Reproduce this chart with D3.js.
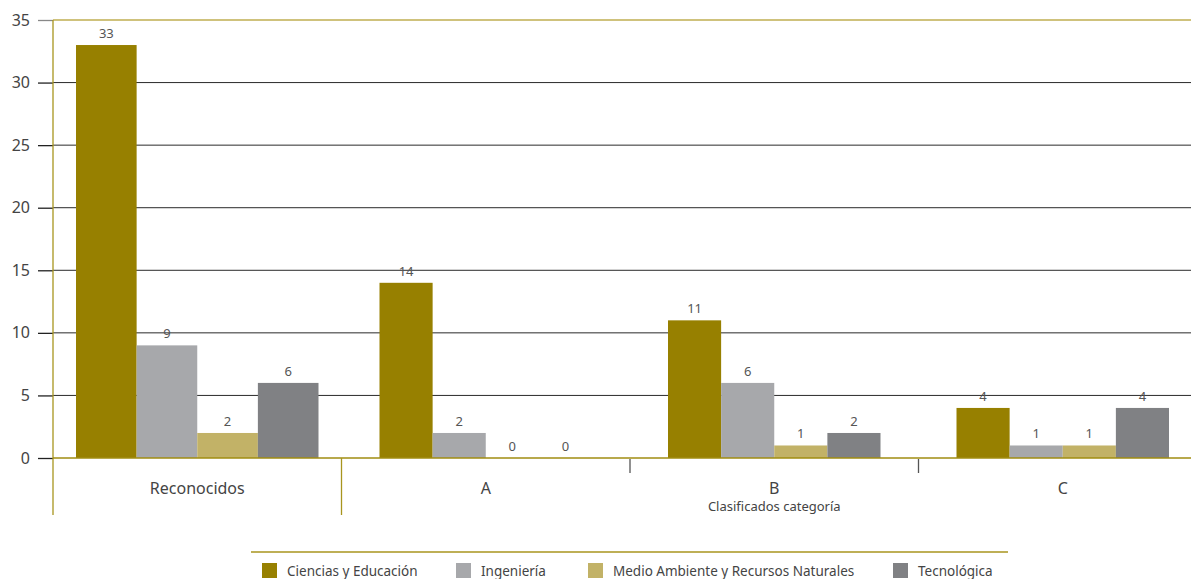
<!DOCTYPE html>
<html><head><meta charset="utf-8">
<script src="https://cdn.jsdelivr.net/npm/d3@7"></script>
<style>
body{margin:0;background:#fff;}
svg{display:block;font-family:"Noto Sans","Open Sans",sans-serif;}
</style></head>
<body><svg id="c" width="1191" height="579"></svg>
<script>
const categories = ["Reconocidos", "A", "B", "C"];
const seriesNames = ["Ciencias y Educación", "Ingeniería", "Medio Ambiente y Recursos Naturales", "Tecnológica"];
const ciencias = [33, 14, 11, 4];
const ingenieria = [9, 2, 6, 1];
const medio = [2, 0, 1, 1];
const tecnologica = [6, 0, 2, 4];
const yTicks = [0, 5, 10, 15, 20, 25, 30, 35];
const groupTitle = "Clasificados categoría";

(function () {
const colors = ["#978000", "#a7a8ab", "#c2b267", "#808184"];
const series = [ciencias, ingenieria, medio, tecnologica];

const svg = d3.select("#c");
const mLeft = 53, mRight = 1207, mTop = 20, mBottom = 458;
const y = d3.scaleLinear().domain([0, 35]).range([mBottom, mTop]);
const x0 = d3.scaleBand().domain(categories).range([mLeft, mRight]).padding(0);
const innerPad = [23, 38, 38, 38];

// gridlines
svg.append("g").selectAll("line").data(yTicks.filter(t => t > 0 && t < 35)).join("line")
  .attr("x1", mLeft).attr("x2", 1191).attr("y1", d => y(d)).attr("y2", d => y(d))
  .attr("stroke", "#2a2a2a").attr("stroke-width", 1);
// top line
svg.append("line").attr("x1", mLeft).attr("x2", 1191).attr("y1", y(35)).attr("y2", y(35))
  .attr("stroke", "#bfae50").attr("stroke-width", 1.5);

// y axis ticks and labels
const yAxis = d3.axisLeft(y).tickValues(yTicks).tickSize(15).tickPadding(8);
const ga = svg.append("g").attr("transform", `translate(${mLeft},0)`).call(yAxis);
ga.select(".domain").remove();
ga.selectAll(".tick line").attr("stroke", d => d === 35 ? "#888" : "#222").attr("stroke-width", 1.3);
ga.selectAll(".tick text").attr("fill", "#444").style("font-size", "16px").style("font-family", "'Noto Sans',sans-serif");

// bars
categories.forEach((cat, gi) => {
  const gx = x0(cat);
  const x1 = d3.scaleBand().domain(seriesNames)
    .range([gx + innerPad[gi], gx + x0.bandwidth() - innerPad[gi]]).padding(0);
  const g = svg.append("g");
  seriesNames.forEach((s, si) => {
    const v = series[si][gi];
    g.append("rect").attr("x", x1(s)).attr("width", x1.bandwidth())
      .attr("y", y(v)).attr("height", y(0) - y(v)).attr("fill", colors[si]);
    g.append("text").attr("x", x1(s) + x1.bandwidth() / 2).attr("y", y(v) - 7)
      .attr("text-anchor", "middle").attr("fill", "#555").style("font-size", "13px").text(v);
  });
  svg.append("text").attr("x", gx + x0.bandwidth() / 2).attr("y", 494)
    .attr("text-anchor", "middle").attr("fill", "#444").style("font-size", "16px").text(cat);
});

// left axis line
svg.append("line").attr("x1", mLeft).attr("x2", mLeft).attr("y1", mTop).attr("y2", 515)
  .attr("stroke", "#a8951e").attr("stroke-width", 1.3);
// zero line
svg.append("line").attr("x1", mLeft).attr("x2", 1191).attr("y1", y(0)).attr("y2", y(0))
  .attr("stroke", "#a08c10").attr("stroke-width", 1.5);
// separator after Reconocidos
svg.append("line").attr("x1", x0("A")).attr("x2", x0("A")).attr("y1", y(0)).attr("y2", 515)
  .attr("stroke", "#a8951e").attr("stroke-width", 1.3);
// small ticks between A/B and B/C
["B", "C"].forEach(c => {
  svg.append("line").attr("x1", x0(c)).attr("x2", x0(c)).attr("y1", y(0) + 1).attr("y2", 473)
    .attr("stroke", "#555").attr("stroke-width", 1.3);
});
svg.append("text").attr("x", x0("B") + x0.bandwidth() / 2).attr("y", 511)
  .attr("text-anchor", "middle").attr("fill", "#444").style("font-size", "13px").text(groupTitle);

// legend
svg.append("line").attr("x1", 251).attr("x2", 1008).attr("y1", 552).attr("y2", 552)
  .attr("stroke", "#a8951e").attr("stroke-width", 1.3);
const legX = [262, 456, 588, 893];
seriesNames.forEach((s, i) => {
  svg.append("rect").attr("x", legX[i]).attr("y", 563).attr("width", 15).attr("height", 15).attr("fill", colors[i]);
  svg.append("text").attr("x", legX[i] + 25).attr("y", 576).attr("fill", "#444")
    .style("font-size", "13.5px").text(s);
});
})();
</script></body></html>
